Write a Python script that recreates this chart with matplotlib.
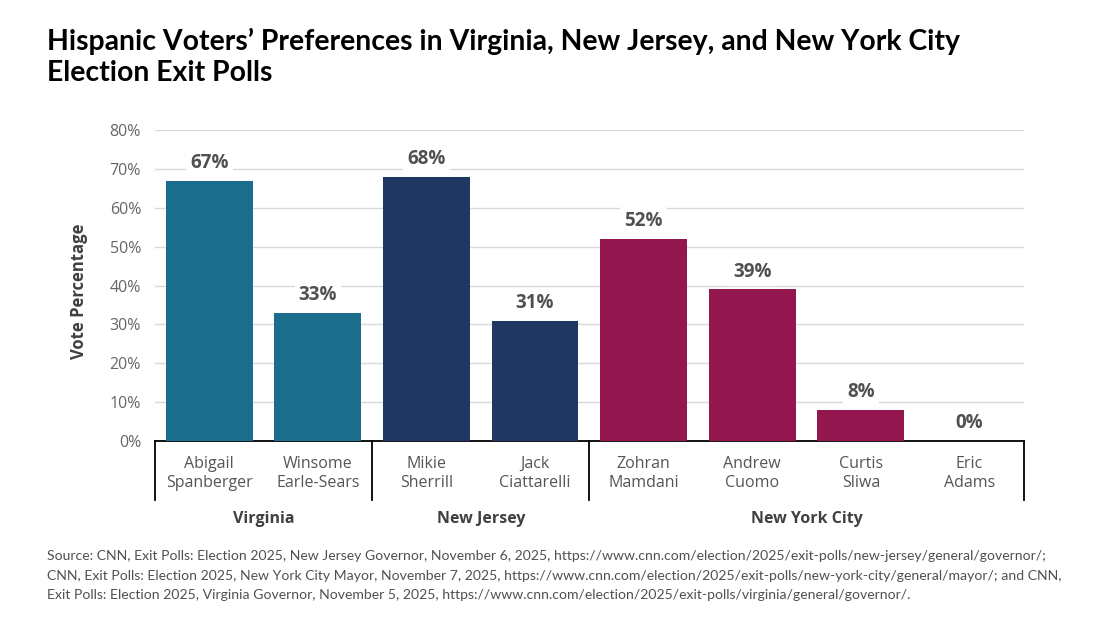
import matplotlib

matplotlib.use("Agg")
import matplotlib.pyplot as plt

plt.rcParams["font.family"] = ["Open Sans", "DejaVu Sans"]

candidates = ["Abigail\nSpanberger", "Winsome\nEarle-Sears", "Mikie\nSherrill", "Jack\nCiattarelli",
              "Zohran\nMamdani", "Andrew\nCuomo", "Curtis\nSliwa", "Eric\nAdams"]
votes = [67, 33, 68, 31, 52, 39, 8, 0]
groups = ["Virginia", "New Jersey", "New York City"]
group_sizes = [2, 2, 4]
group_colors = ["#1a6d8c", "#1f3863", "#93164f"]
yticks = [0, 10, 20, 30, 40, 50, 60, 70, 80]

fig = plt.figure(figsize=(11.2, 6.26), dpi=100)
ax = fig.add_axes([0.1384, 0.2955, 0.914 - 0.1384, 0.7923 - 0.2955])

colors = []
for size, color in zip(group_sizes, group_colors):
    colors += [color] * size
x = list(range(len(candidates)))
ax.bar(x, votes, width=0.8, color=colors, zorder=3)

for xi, v in zip(x, votes):
    ax.text(xi, v + 2.0, f"{v}%", ha="center", va="bottom", fontsize=13.5, fontweight="bold",
            color="#505050", zorder=4,
            bbox=dict(facecolor="white", edgecolor="none", pad=3))

ax.set_xlim(-0.5, len(candidates) - 0.5)
ax.set_ylim(0, 80)
ax.set_yticks(yticks)
ax.set_yticklabels([f"{t}%" for t in yticks], fontsize=11.5, color="#666666")
ax.tick_params(axis="y", length=0, pad=10)
ax.tick_params(axis="x", length=0)
ax.set_xticks([])
ax.grid(axis="y", color="#d9d9d9", linewidth=1, zorder=0)
for s in ["top", "right", "left"]:
    ax.spines[s].set_visible(False)
ax.spines["bottom"].set_color("black")
ax.spines["bottom"].set_linewidth(1.3)
ax.set_ylabel("Vote Percentage", fontsize=12, fontweight="bold", color="#404040", labelpad=10)
ax.yaxis.set_label_coords(-0.077, 0.48)

trans = ax.get_xaxis_transform()
# candidate labels
for xi, name in zip(x, candidates):
    ax.text(xi, -0.1045, name, transform=trans, ha="center", va="center", fontsize=11.5,
            color="#555555", linespacing=1.33)

# group separators and labels
bounds = [-0.5]
for size in group_sizes:
    bounds.append(bounds[-1] + size)
for b in bounds:
    ax.plot([b, b], [0, -0.19], transform=trans, color="black", linewidth=1.3, clip_on=False)
for i, g in enumerate(groups):
    center = (bounds[i] + bounds[i + 1]) / 2
    ax.text(center, -0.25, g, transform=trans, ha="center", va="center", fontsize=11.5,
            fontweight="bold", color="#404040")

fig.text(0.042, 0.909, "Hispanic Voters\u2019 Preferences in Virginia, New Jersey, and New York City\nElection Exit Polls",
         ha="left", va="center", fontsize=20.4, fontweight="bold", color="black", linespacing=1.25,
         family=["Lato", "DejaVu Sans"])

source = ("Source: CNN, Exit Polls: Election 2025, New Jersey Governor, November 6, 2025, https://www.cnn.com/election/2025/exit-polls/new-jersey/general/governor/;\n"
          "CNN, Exit Polls: Election 2025, New York City Mayor, November 7, 2025, https://www.cnn.com/election/2025/exit-polls/new-york-city/general/mayor/; and CNN,\n"
          "Exit Polls: Election 2025, Virginia Governor, November 5, 2025, https://www.cnn.com/election/2025/exit-polls/virginia/general/governor/.")
fig.text(0.042, 0.08, source, ha="left", va="center", fontsize=10.1, color="#505050", linespacing=1.75,
         family=["Lato", "DejaVu Sans"])

fig.savefig("out.png", dpi=100)
